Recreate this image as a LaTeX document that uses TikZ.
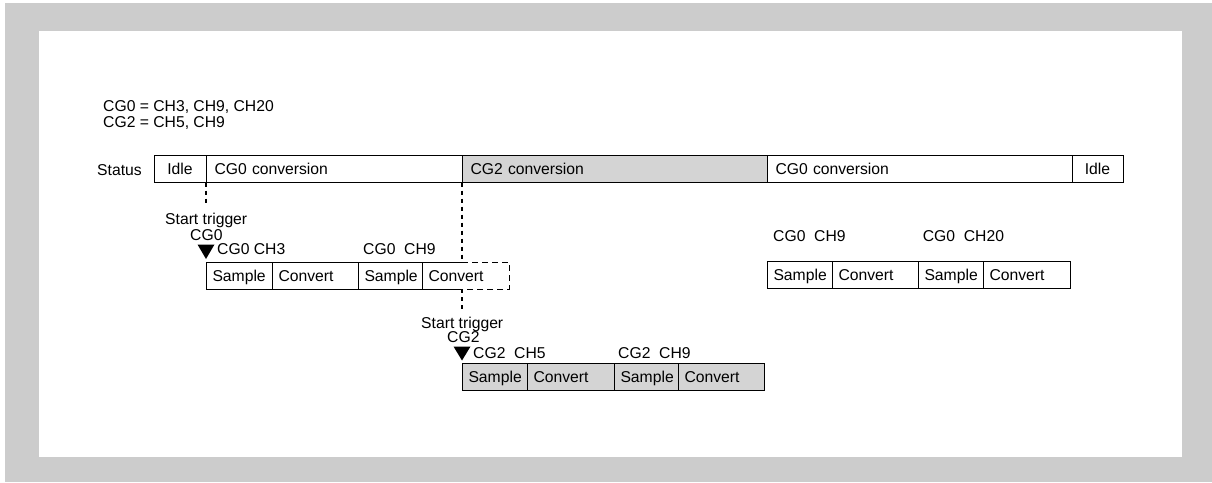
\documentclass[tikz,border=0pt]{standalone}
\usepackage{fontspec}
\setmainfont{Liberation Sans}
\usetikzlibrary{positioning}
\definecolor{framegray}{HTML}{CCCCCC}
\definecolor{cgtwofill}{HTML}{D4D4D4}
\tikzset{
  txt/.style={font=\fontsize{15.7pt}{18pt}\selectfont},
  cell/.style={txt, draw, line width=1pt, outer sep=0pt, minimum height=27pt,
    inner xsep=6.5pt, inner ysep=0pt, text width=#1-13pt, text height=11.3pt,
    text depth=0pt, align=left},
  bar/.style={cell=#1, inner xsep=8.5pt, text width=#1-17pt},
  lbl/.style={txt, inner sep=0pt, anchor=base west},
  trig/.style={line width=2.5pt, dash pattern=on 4pt off 4pt},
}
\begin{document}
\begin{tikzpicture}[x=1pt, y=-1pt]
        \useasboundingbox (0,0) rectangle (1212,482);
        % Frame
        \fill[framegray] (5,3) rectangle (1212,482);
        \fill[white] (39,31) rectangle (1182,457);

        % Channel groups
        \node[lbl] (defzero) at (103,111) {CG0 = CH3, CH9, CH20};
        \node[lbl] (deftwo) at (103,127) {CG2 = CH5, CH9};

        % Status row
        \node[lbl] (status) at (97,175.3) {Status};
        \node[bar=52pt, align=center, anchor=west] (s1) at (154,169.2) {Idle};
        \node[bar=256pt, right=0pt of s1] (s2) {CG0 conversion};
        \node[bar=305pt, fill=cgtwofill, right=0pt of s2] (s3) {CG2 conversion};
        \node[bar=305pt, right=0pt of s3] (s4) {CG0 conversion};
        \node[bar=51pt, align=center, right=0pt of s4] (s5) {Idle};

        % CG0 first pass
        \node[cell=66pt, anchor=west] (a1) at (206,275.5) {Sample};
        \node[cell=86pt, right=0pt of a1] (a2) {Convert};
        \node[cell=64pt, right=0pt of a2] (a3) {Sample};
        \node[cell=87pt, draw=none, right=0pt of a3] (a4) {Convert};
        \coordinate (cut1) at (s3.south west |- a4.north);
        \coordinate (cut2) at (s3.south west |- a4.south);
        \draw[line width=1pt] (cut1) -- (a4.north west) -- (a4.south west) -- (cut2);
        \draw[line width=1pt, dash pattern=on 6pt off 4pt] (cut1) -- (a4.north east) -- (a4.south east) -- (cut2);

        \node[lbl] (trigzero) at (165,224.3) {Start trigger};
        \node[lbl] (trigzerocg) at (190,240) {CG0};
        \node[lbl] (chthree) at (217,254) {CG0 CH3};
        \node[lbl] (chnine) at (363,254) {CG0\ \ CH9};
        \fill (a1.north west) ++(-8.5,-17.5) -- ++(17,0) -- ++(-8.5,14.5) -- cycle;

        % CG2 pass
        \node[cell=65pt, fill=cgtwofill, anchor=west] (b1) at (462,376.5) {Sample};
        \node[cell=87pt, fill=cgtwofill, right=0pt of b1] (b2) {Convert};
        \node[cell=64pt, fill=cgtwofill, right=0pt of b2] (b3) {Sample};
        \node[cell=86pt, fill=cgtwofill, right=0pt of b3] (b4) {Convert};

        \node[lbl] (trigtwo) at (421,328) {Start trigger};
        \node[lbl] (trigtwocg) at (447,342) {CG2};
        \node[lbl] (chfive) at (473,358) {CG2\ \ CH5};
        \node[lbl] (chninetwo) at (618,358) {CG2\ \ CH9};
        \fill (b1.north west) ++(-8.5,-16.5) -- ++(17,0) -- ++(-8.5,14) -- cycle;

        % CG0 resumed
        \node[cell=65pt, anchor=west] (c1) at (767,274.5) {Sample};
        \node[cell=86pt, right=0pt of c1] (c2) {Convert};
        \node[cell=65pt, right=0pt of c2] (c3) {Sample};
        \node[cell=87pt, right=0pt of c3] (c4) {Convert};

        \node[lbl] (chnineres) at (773,241.7) {CG0\ \ CH9};
        \node[lbl] (chtwenty) at (922.7,241.7) {CG0\ \ CH20};

        % Triggers
        \draw[trig] (s2.south west) -- ++(0,22);
        \draw[trig] (s3.south west) -- (cut1);
        \draw[trig] (cut2) -- ++(0,22);

    \end{tikzpicture}
\end{document}
